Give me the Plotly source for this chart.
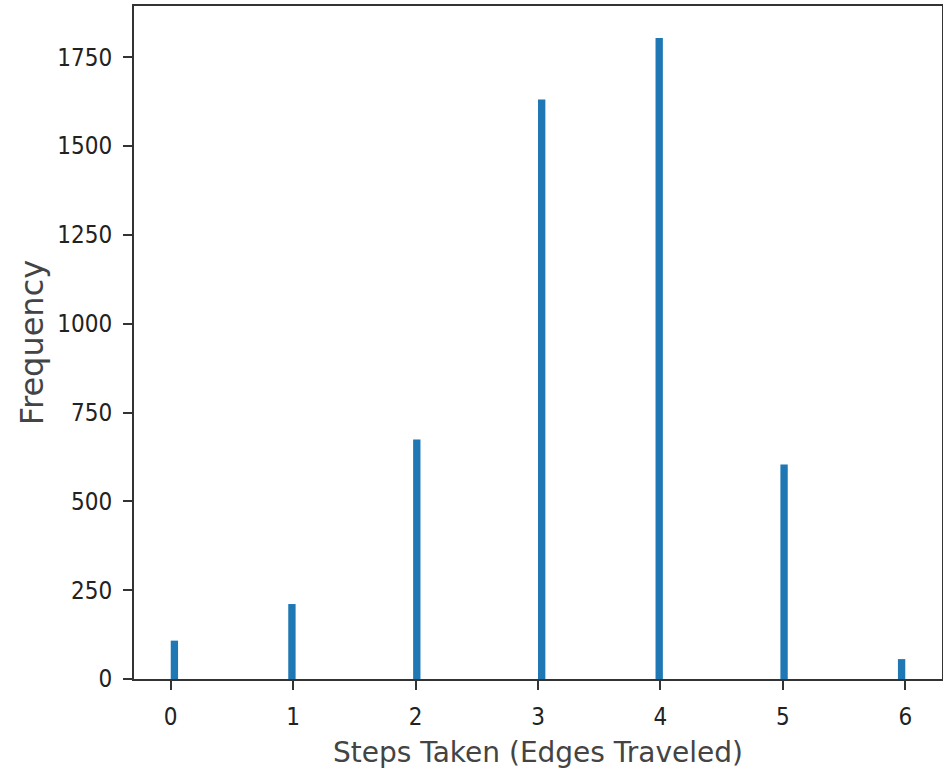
import plotly.graph_objects as go
import math

steps = [0, 1, 2, 3, 4, 5, 6]
frequency = [108, 211, 674, 1631, 1804, 604, 56]
y_ticks = [0, 250, 500, 750, 1000, 1250, 1500, 1750]
x_ticks = [0, 1, 2, 3, 4, 5, 6]

n_bins = 100
lo, hi = min(steps), max(steps)
bw = (hi - lo) / n_bins
lefts = [min(lo + math.floor((v - lo) / bw + 1e-9) * bw, hi - bw) for v in steps]
offsets = [l - v for l, v in zip(lefts, steps)]

fig = go.Figure(go.Bar(
    x=steps, y=frequency, width=bw, offset=offsets,
    marker=dict(color="#1f77b4", line=dict(width=0)),
))

font = "DejaVu Sans Condensed, DejaVu Sans, sans-serif"
xr = hi - lo
fig.update_layout(
    width=943, height=769,
    margin=dict(l=134, r=1, t=6, b=90),
    paper_bgcolor="white", plot_bgcolor="white",
    font=dict(family=font, size=24, color="#222"),
    showlegend=False,
    xaxis=dict(
        range=[lo - 0.05 * xr, hi + 0.05 * xr], automargin=False,
        tickvals=x_ticks, ticks="outside", ticklen=9, tickwidth=2, tickcolor="#333",
        ticklabelstandoff=6,
        showline=True, linecolor="#333", linewidth=2, mirror=True,
        showgrid=False, zeroline=False,
        title=dict(text="Steps Taken (Edges Traveled)", standoff=15,
                   font=dict(family="DejaVu Sans, sans-serif", size=28, color="#444")),
    ),
    yaxis=dict(
        range=[0, max(frequency) * 1.05], automargin=False,
        tickvals=y_ticks, ticks="outside", ticklen=9, tickwidth=2, tickcolor="#333",
        ticklabelstandoff=6,
        showline=True, linecolor="#333", linewidth=2, mirror=True,
        showgrid=False, zeroline=False,
        title=dict(text="Frequency", standoff=4,
                   font=dict(family="DejaVu Sans, sans-serif", size=32, color="#444")),
    ),
)

fig.write_html(
    "out.html",
    config={"displayModeBar": False},
    post_script="document.body.style.margin='0';document.body.style.overflow='hidden';",
)
